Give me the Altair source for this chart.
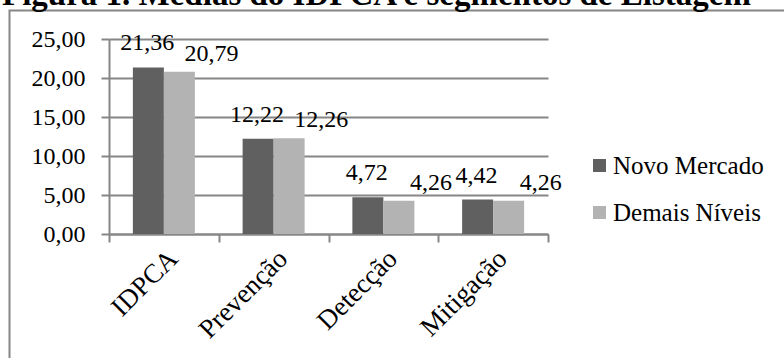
import altair as alt
import pandas as pd

categories = ["IDPCA", "Prevenção", "Detecção", "Mitigação"]
series = ["Novo Mercado", "Demais Níveis"]
novo_mercado = [21.36, 12.22, 4.72, 4.42]
demais_niveis = [20.79, 12.26, 4.26, 4.26]
y_ticks = [0, 5, 10, 15, 20, 25]
title_text = "Figura 1. Médias do IDPCA e segmentos de Listagem"

rows = []
for c, a, b in zip(categories, novo_mercado, demais_niveis):
    rows.append({"cat": c, "serie": series[0], "v": a})
    rows.append({"cat": c, "serie": series[1], "v": b})
df = pd.DataFrame(rows)

FONT = "Liberation Serif, Times New Roman, serif"
GRAY = "#868686"
fmt = "replace(format(datum.value, '.2f'), '.', ',')"

x = alt.X(
    "cat:N", sort=categories,
    scale=alt.Scale(domain=categories, paddingInner=0, paddingOuter=0),
    axis=alt.Axis(title=None, labelAngle=-45, tickBand="extent", tickSize=8,
                  labelPadding=3, labelFontSize=27, labelFont=FONT,
                  labelColor="black", domainColor=GRAY, domainWidth=2,
                  tickColor=GRAY, tickWidth=2, grid=False),
)
xo = alt.XOffset("serie:N", sort=series,
                 scale=alt.Scale(domain=series, paddingInner=0, paddingOuter=0.77))
y = alt.Y(
    "v:Q",
    scale=alt.Scale(domain=[0, 25], nice=False),
    axis=alt.Axis(title=None, values=y_ticks, labelExpr=fmt, tickSize=8,
                  labelPadding=16, labelFontSize=24, labelFont=FONT,
                  labelColor="black", domainColor=GRAY, domainWidth=2,
                  tickColor=GRAY, tickWidth=2, grid=True, gridColor=GRAY,
                  gridWidth=2),
)
color = alt.Color(
    "serie:N", sort=series,
    scale=alt.Scale(domain=series, range=["#606060", "#b3b3b3"]),
    legend=alt.Legend(title=None, orient="none", legendX=478, legendY=114,
                      symbolType="square", symbolSize=169, symbolStrokeWidth=0,
                      labelFont=FONT, labelFontSize=25, labelColor="black",
                      rowPadding=21, labelOffset=1, padding=0),
)

base = alt.Chart(df)

frame = alt.Chart(pd.DataFrame({"a": [0]})).mark_rect(
    filled=False, stroke=GRAY, strokeWidth=2
).encode(x=alt.value(-99.5), x2=alt.value(900), y=alt.value(-28.5), y2=alt.value(600))

title = alt.Chart(pd.DataFrame({"t": [title_text]})).mark_text(
    font=FONT, fontSize=33, fontWeight="bold", color="black",
    align="left", baseline="alphabetic"
).encode(x=alt.value(-107), y=alt.value(-34), text="t:N")

bars = base.mark_bar().encode(x=x, xOffset=xo, y=y, color=color)

lab_fmt = "replace(format(datum.v, '.2f'), '.', ',')"
labels_dark = base.transform_filter(alt.datum.serie == series[0]).transform_calculate(
    label=lab_fmt
).mark_text(font=FONT, fontSize=24, color="black", baseline="alphabetic",
            dx=-1, dy=-17).encode(x=x, xOffset=xo, y=y, text="label:N")
labels_light = base.transform_filter(alt.datum.serie == series[1]).transform_calculate(
    label=lab_fmt
).mark_text(font=FONT, fontSize=24, color="black", baseline="alphabetic",
            dx=32, dy=-11).encode(x=x, xOffset=xo, y=y, text="label:N")

chart = alt.layer(frame, bars, labels_dark, labels_light, title).properties(
    width=439, height=195,
    autosize=alt.AutoSizeParams(type="none"),
    padding={"left": 109, "top": 39, "right": 236, "bottom": 124},
).configure_view(stroke=None)

chart.save("out.html", embed_options={"renderer": "svg", "actions": False})
